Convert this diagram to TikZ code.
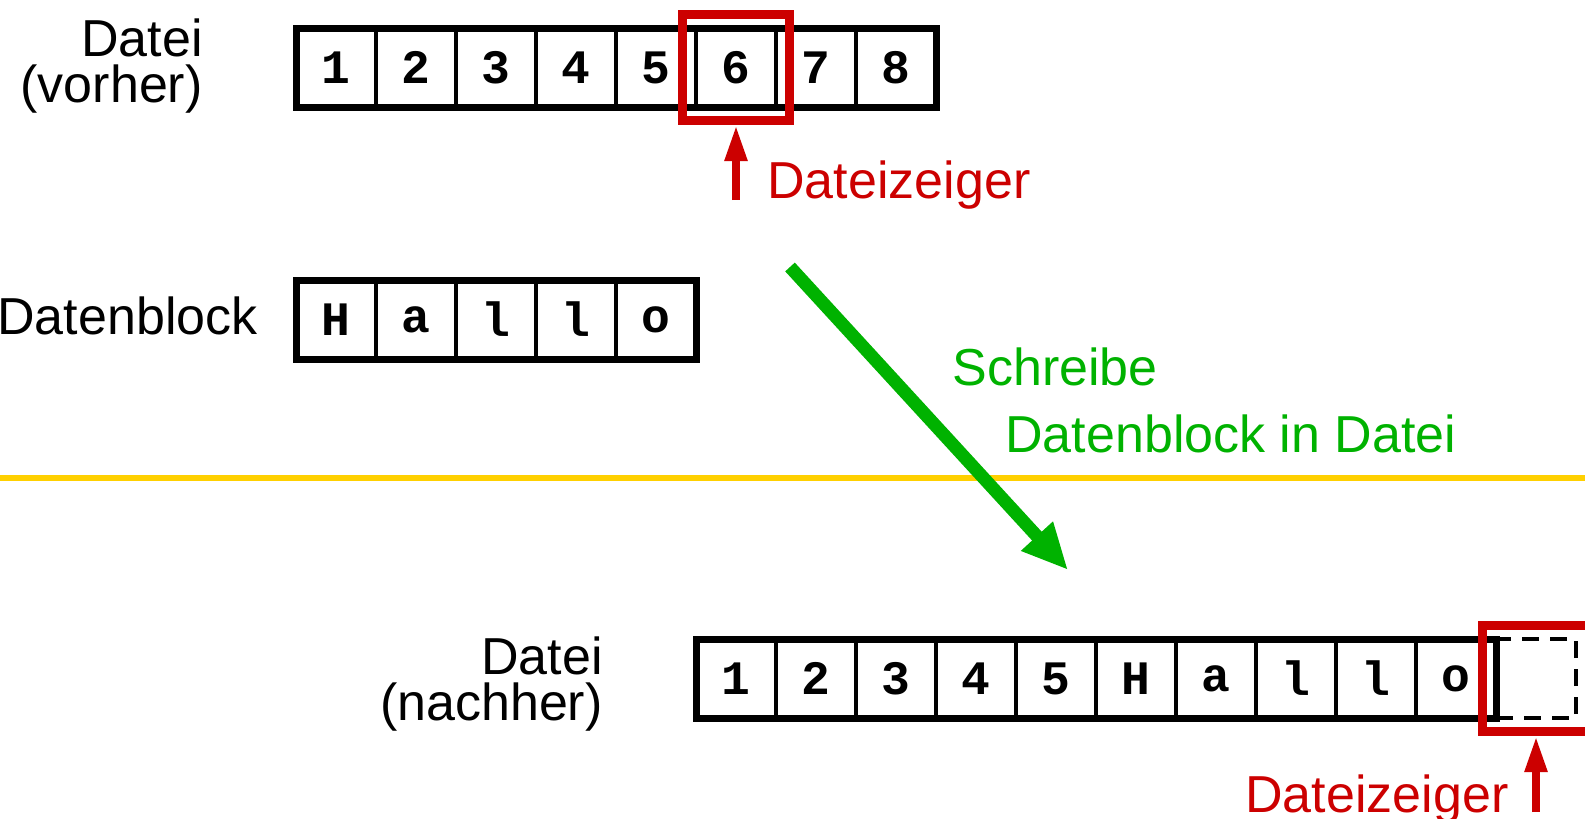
\documentclass[tikz,border=0pt]{standalone}
\usepackage{fontspec}
\setmainfont{Liberation Sans}
\setmonofont{Liberation Mono}
\usetikzlibrary{arrows.meta,positioning}
\definecolor{ptrred}{RGB}{204,0,0}
\definecolor{writegreen}{RGB}{0,178,0}
\definecolor{sepyellow}{RGB}{255,208,0}

\begin{document}
\begin{tikzpicture}[x=0.5pt,y=-0.5pt,
  cell/.style={draw,line width=2.25pt,minimum width=40pt,minimum height=39.5pt,inner sep=0pt,outer sep=0pt,font=\ttfamily\bfseries\fontsize{24pt}{24pt}\selectfont},
  emptycell/.style={cell,dash pattern=on 8.5pt off 5.5pt},
  rowframe/.style={line width=3.5pt},
  ptrbox/.style={draw=ptrred,line width=4.5pt,minimum width=53.5pt,minimum height=53pt,inner sep=0pt},
  ptrarrow/.style={ptrred,line width=4pt,-{Triangle[length=18pt,width=10.5pt]}},
  writearrow/.style={writegreen,line width=6.5pt,-{Triangle[length=23pt,width=20pt]}},
  lbl/.style={inner sep=0pt,font=\fontsize{26pt}{23pt}\selectfont}]
\fill[white] (0,0) rectangle (1585,819);
\useasboundingbox (0,0) rectangle (1585,819);
% separator between before and after
\draw[sepyellow,line width=3pt] (0,478) -- (1585,478);

% file before writing
\node[lbl,align=right,anchor=base east] (before) at (203,102) {Datei\\(vorher)};
\foreach \c [count=\i] in {1,...,8}
  \node[cell] (top\i) at ({256+80*\i},67.5) {\c};
\draw[rowframe] (top1.north west) rectangle (top8.south east);
\node[ptrbox] (ptrtop) at (top6) {};
\coordinate[below=37.5pt of ptrtop.south] (ptrtoptail);
\draw[ptrarrow] (ptrtoptail) -- (ptrtop.south);
\node[lbl,text=ptrred,anchor=base west] (ptrtoplbl) at (767,198) {Dateizeiger};

% data block
\node[lbl,anchor=base east] (blocklbl) at (258,334) {Datenblock};
\foreach \c [count=\i] in {H,a,l,l,o}
  \node[cell] (blk\i) at ({256+80*\i},319.5) {\c};
\draw[rowframe] (blk1.north west) rectangle (blk5.south east);

% write step
\coordinate (writefrom) at (790,267);
\coordinate (writeto) at (1068,570);
\draw[writearrow] (writefrom) -- (writeto);
\node[lbl,text=writegreen,align=left,anchor=base west] (writelbl) at (952,452)
  {Schreibe\\[10.5pt]\hspace*{26.5pt}Datenblock in Datei};

% file after writing
\node[lbl,align=right,anchor=base east] (after) at (603,720) {Datei\\(nachher)};
\foreach \c [count=\i] in {1,2,3,4,5,H,a,l,l,o}
  \node[cell] (bot\i) at ({656+80*\i},678.5) {\c};
\node[emptycell] (bot11) at (1536,678.5) {};
\draw[rowframe] (bot1.north west) rectangle (bot10.south east);
\node[ptrbox] (ptrbot) at (bot11) {};
\coordinate[below=38pt of ptrbot.south] (ptrbottail);
\draw[ptrarrow] (ptrbottail) -- (ptrbot.south);
\node[lbl,text=ptrred,anchor=base west] (ptrbotlbl) at (1245,812) {Dateizeiger};
\end{tikzpicture}
\end{document}
